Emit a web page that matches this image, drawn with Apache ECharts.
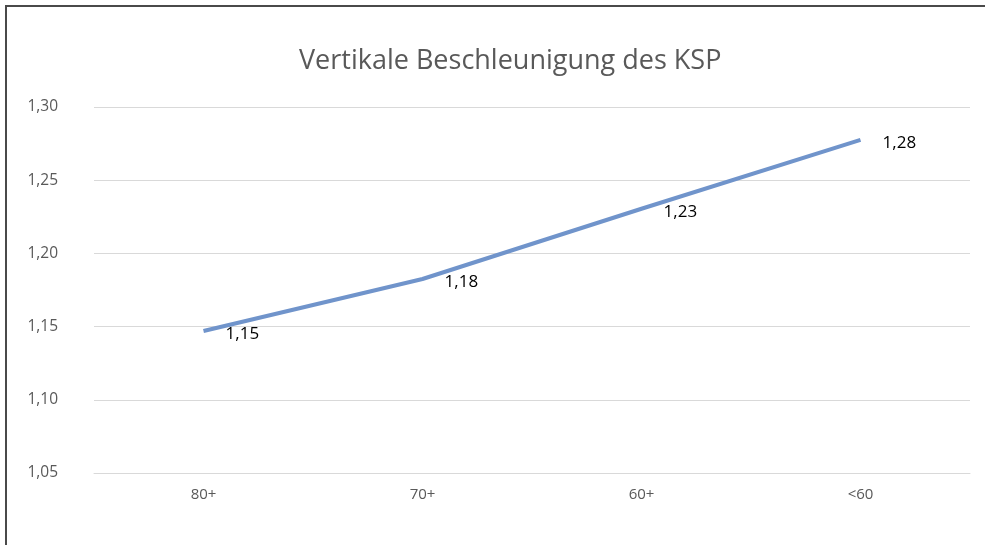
<!DOCTYPE html>
<html>
<head>
<meta charset="utf-8">
<script src="https://cdn.jsdelivr.net/npm/echarts@6/dist/echarts.min.js"></script>
<style>
  html, body { margin: 0; padding: 0; background: #fff; overflow: hidden; }
  #frame { position: absolute; left: 5px; top: 5px; width: 1000px; height: 560px;
           border-left: 2px solid #4a4a4a; border-top: 2px solid #4a4a4a; }
  #chart { position: absolute; left: 0; top: 0; width: 985px; height: 545px; }
</style>
</head>
<body>
<div id="frame"></div>
<div id="chart"></div>
<script>
// Altersgruppen und Werte
var categories = ['80+', '70+', '60+', '<60'];
var values = [1.147, 1.1825, 1.2305, 1.2775];
var titleText = 'Vertikale Beschleunigung des KSP';

var fmt = function (v) { return Number(v).toFixed(2).replace('.', ','); };

var myChart = echarts.init(document.getElementById('chart'));
var option = {
    animation: false,
    title: {
        text: titleText,
        left: 294,
        top: 43,
        textStyle: { fontFamily: 'Open Sans', fontSize: 27, fontWeight: 'normal', color: '#595959' }
    },
    grid: { left: 94, right: 15, top: 107, bottom: 72 },
    xAxis: {
        type: 'category',
        data: categories,
        boundaryGap: true,
        axisLine: { show: true, lineStyle: { color: '#d9d9d9', width: 1 } },
        axisTick: { show: false },
        axisLabel: { margin: 14, fontFamily: 'Open Sans', fontSize: 15, color: '#595959' }
    },
    yAxis: {
        type: 'value',
        min: 1.05,
        max: 1.30,
        interval: 0.05,
        axisLine: { show: false },
        axisTick: { show: false },
        splitLine: { lineStyle: { color: '#d9d9d9', width: 1 } },
        axisLabel: { margin: 36, fontFamily: 'Open Sans', fontSize: 15.5, color: '#595959', formatter: fmt }
    },
    series: [{
        type: 'line',
        data: values,
        symbol: 'circle',
        symbolSize: 0.1,
        showSymbol: true,
        lineStyle: { color: '#7094cb', width: 4 },
        itemStyle: { color: '#7094cb' },
        label: {
            show: true,
            position: 'right',
            distance: 22,
            offset: [0, 3],
            fontFamily: 'Open Sans',
            fontSize: 17,
            color: '#000',
            formatter: function (p) { return fmt(p.value); }
        }
    }]
};
myChart.setOption(option);
</script>
</body>
</html>
